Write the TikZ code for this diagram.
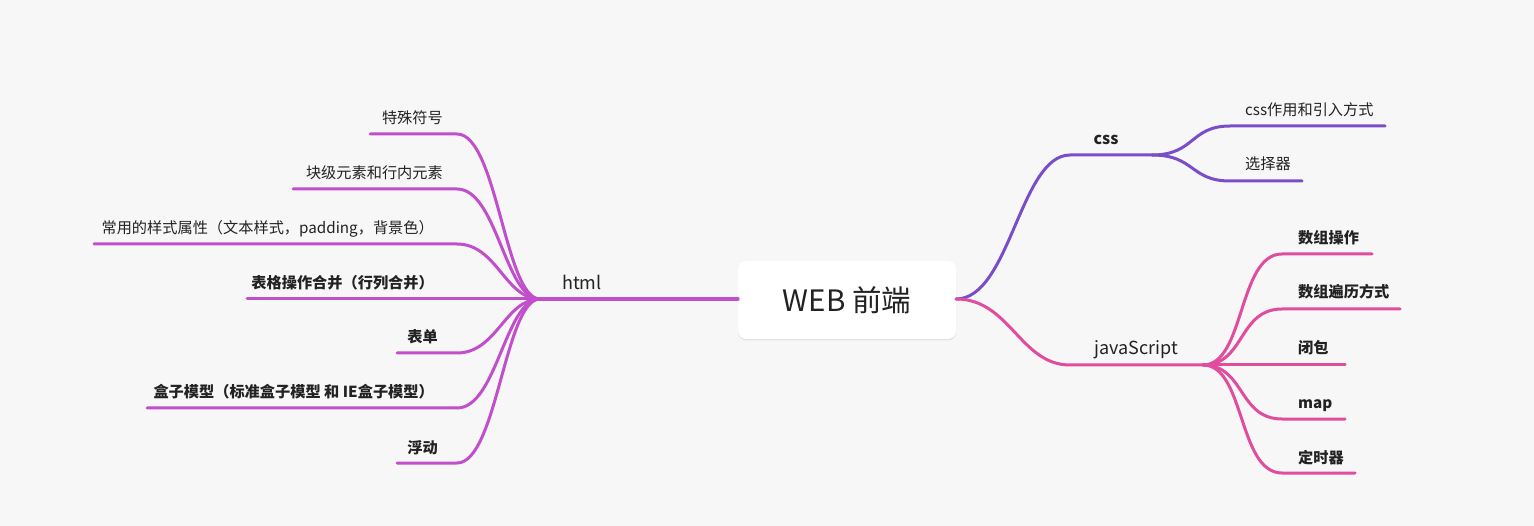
\documentclass[tikz,border=0pt]{standalone}
\usepackage{fontspec}
\setmainfont{Noto Sans CJK SC}
\usetikzlibrary{shadows}
\definecolor{bgc}{HTML}{F7F7F7}
\definecolor{htmlc}{HTML}{C14FCB}
\definecolor{cssc}{HTML}{7A4EC8}
\definecolor{jsc}{HTML}{E04C9E}
\definecolor{txtc}{HTML}{222222}
\tikzset{
  br/.style={line width=3pt, line cap=round},
  leafl/.style={anchor=base east, font=\fontsize{15.2}{17}\selectfont, text=txtc, inner sep=0pt},
  leafb/.style={leafl, font=\fontsize{15.2}{17}\selectfont\bfseries},
  leafr/.style={anchor=base west, font=\fontsize{15.2}{17}\selectfont, text=txtc, inner sep=0pt},
  leafrb/.style={leafr, font=\fontsize{15.2}{17}\selectfont\bfseries},
  topic/.style={anchor=base, font=\fontsize{18}{20}\selectfont, text=txtc, inner sep=0pt},
}
\begin{document}
\begin{tikzpicture}[x=1pt,y=-1pt]
\fill[bgc] (0,0) rectangle (1534,526);
\useasboundingbox (0,0) rectangle (1534,526);
% center
\node[fill=white, rounded corners=8pt, minimum width=218pt, minimum height=78pt,
  drop shadow={shadow xshift=0pt, shadow yshift=-1.5pt, opacity=0.08, fill=black},
  font=\fontsize{29.5}{32}\selectfont, text=txtc] (root) at (847,300) {WEB 前端};
% coordinates
\coordinate (rL) at (738,299);
\coordinate (rR) at (956,299);
\coordinate (hF) at (540,299);
\coordinate (cS) at (1070,155);
\coordinate (cF) at (1152,155);
\coordinate (jS) at (1070,365);
\coordinate (jF) at (1203,365);
% html main
\draw[br, htmlc, line width=3.2pt] (rL) -- (hF);
\node[topic, anchor=base west] (html) at (562,290) {html};
% html leaves
\foreach \n/\y/\x in {h1/134/370, h2/189/293, h3/244/94, h5/353/397, h6/408/147, h7/463/397}{
  \coordinate (\n s) at (\x,\y);
  \coordinate (\n e) at (457,\y);
  \draw[br, htmlc] (hF) .. controls (505,299) and (497,\y) .. (\n e) -- (\n s);
}
\coordinate (h4s) at (247,299);
\draw[br, htmlc] (hF) -- (h4s);
\node[leafl] (t1) at (443,124) {特殊符号};
\node[leafl] (t2) at (443,179) {块级元素和行内元素};
\node[leafl] (t3) at (434,234) {常用的样式属性（文本样式，padding，背景色）};
\node[leafb] (t4) at (434,289) {表格操作合并（行列合并）};
\node[leafb] (t5) at (438,343) {表单};
\node[leafb] (t6) at (434,398) {盒子模型（标准盒子模型 和 IE盒子模型）};
\node[leafb] (t7) at (438,453) {浮动};
% css
\draw[br, cssc] (rR) .. controls (1010,299) and (1020,155) .. (cS) -- (cF);
\node[topic, font=\fontsize{16}{18}\selectfont\bfseries] (css) at (1106,145) {css};
\coordinate (c1s) at (1230,126);
\coordinate (c1e) at (1385,126);
\coordinate (c2s) at (1230,181);
\coordinate (c2e) at (1302,181);
\draw[br, cssc] (cF) .. controls (1195,155) and (1190,126) .. (c1s) -- (c1e);
\draw[br, cssc] (cF) .. controls (1195,155) and (1190,181) .. (c2s) -- (c2e);
\node[leafr] (c1) at (1245,116) {css作用和引入方式};
\node[leafr] (c2) at (1245,170) {选择器};
% js
\draw[br, jsc] (rR) .. controls (1010,299) and (1020,365) .. (jS) -- (jF);
\node[topic] (js) at (1136,355) {javaScript};
\foreach \n/\y/\x in {j1/254/1372, j2/309/1400, j4/419/1345, j5/473/1355}{
  \coordinate (\n s) at (1282,\y);
  \coordinate (\n e) at (\x,\y);
  \draw[br, jsc] (jF) .. controls (1245,365) and (1238,\y) .. (\n s) -- (\n e);
}
\coordinate (j3e) at (1345,365);
\draw[br, jsc] (jF) -- (j3e);
\node[leafrb] (s1) at (1298,244) {数组操作};
\node[leafrb] (s2) at (1298,298) {数组遍历方式};
\node[leafrb] (s3) at (1298,354) {闭包};
\node[leafrb] (s4) at (1298,409) {map};
\node[leafrb] (s5) at (1298,463) {定时器};
\end{tikzpicture}
\end{document}
